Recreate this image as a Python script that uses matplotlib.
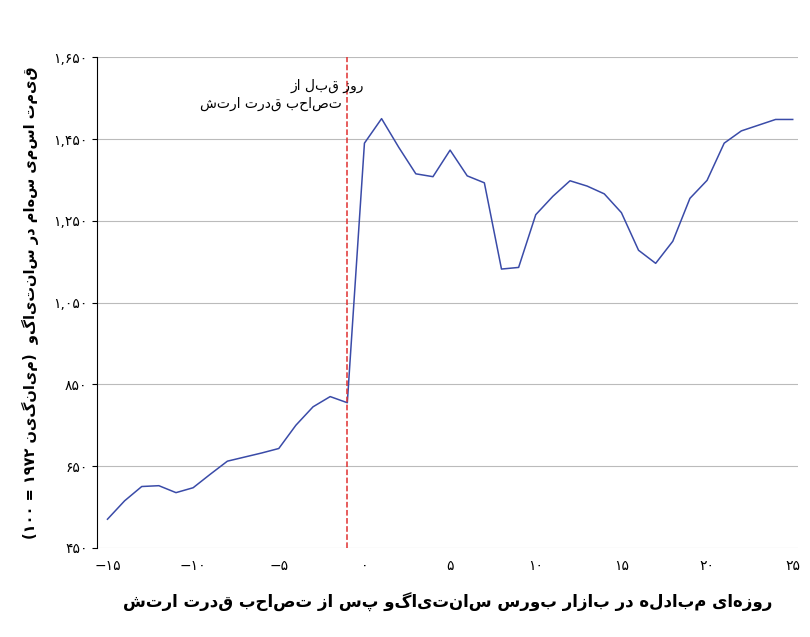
import re
import matplotlib
matplotlib.use("Agg")
import matplotlib.pyplot as plt

days = list(range(-15, 26))
values = [520, 565, 600, 602, 585, 597, 630, 662, 672, 682, 693, 750, 795, 820, 805,
          1440, 1500, 1430, 1365, 1358, 1423, 1360, 1343, 1132, 1136, 1265, 1310, 1348,
          1335, 1316, 1270, 1178, 1146, 1200, 1305, 1349, 1440, 1470, 1484, 1498, 1498]
yticks = [450, 650, 850, 1050, 1250, 1450, 1650]
ylabels = ["۴۵۰", "۶۵۰", "۸۵۰", "۱,۰۵۰", "۱,۲۵۰", "۱,۴۵۰", "۱,۶۵۰"]
xticks = [-15, -10, -5, 0, 5, 10, 15, 20, 25]
xlabels = ["−۱۵", "−۱۰", "−۵", "۰", "۵", "۱۰", "۱۵", "۲۰", "۲۵"]
event_day = -1
xtitle = "روزهای مبادله در بازار بورس سانتیاگو پس از تصاحب قدرت ارتش"
ytitle = "قیمت اسمی سهام در سانتیاگو  (میانگین ۱۹۷۲ = ۱۰۰)"
note = ["روز قبل از", "تصاحب قدرت ارتش"]

MIRROR = str.maketrans("()", ")(")

def rtl(s):
    r = s[::-1].translate(MIRROR)
    return re.sub(r"[۰-۹0-9,]+", lambda m: m.group(0)[::-1], r)

plt.rcParams['font.family'] = ['DejaVu Sans']
fig, ax = plt.subplots(figsize=(8.1, 6.37), dpi=100)
fig.subplots_adjust(left=0.12, right=0.985, top=0.91, bottom=0.14)
ax.plot(days, values, color="#3a4ba8", lw=1.1)
ax.axvline(event_day, color="#e03030", ls="--", lw=1.1)
ax.set_ylim(450, 1650)
ax.set_xlim(-15.6, 25.3)
ax.set_yticks(yticks)
ax.set_yticklabels(ylabels)
ax.set_xticks(xticks)
ax.set_xticklabels(xlabels)
ax.yaxis.grid(True, color="#bbbbbb", lw=0.8)
ax.set_axisbelow(True)
for s in ["top", "right", "bottom"]:
    ax.spines[s].set_visible(False)
ax.tick_params(axis="x", length=0, labelsize=10, pad=8)
ax.tick_params(axis="y", labelsize=10)
ax.text(event_day - 3.3, 1580, rtl(note[0]), ha="left", va="center", fontsize=10)
ax.text(event_day - 0.3, 1535, rtl(note[1]), ha="right", va="center", fontsize=10)
ax.set_xlabel(rtl(xtitle), fontsize=12, fontweight="bold", labelpad=14)
ax.set_ylabel(rtl(ytitle), fontsize=10.5, fontweight="bold", labelpad=10)
fig.savefig("out.png", dpi=100)
